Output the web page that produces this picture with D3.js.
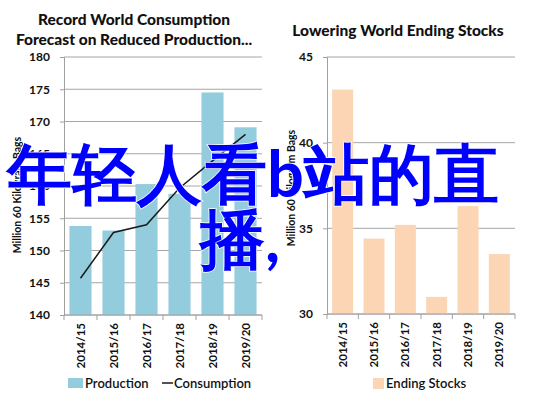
<!DOCTYPE html>
<html><head><meta charset="utf-8">
<script src="https://cdn.jsdelivr.net/npm/d3@7"></script>
<style>
html,body{margin:0;padding:0;background:#fff;}
svg{display:block;}
text{font-family:Lato,"Open Sans",sans-serif;}
</style></head>
<body><svg id="c" width="537" height="399"></svg>
<script>
const categories = ["2014/15","2015/16","2016/17","2017/18","2018/19","2019/20"];
const production = [153.8, 153.1, 160.3, 158.8, 174.5, 169.1];
const consumption = [145.7, 152.8, 154.0, 159.7, 163.9, 168.0];
const endingStocks = [43.1, 34.4, 35.2, 31.0, 36.3, 33.5];
const leftTicks = [140,145,150,155,160,165,170,175,180];
const rightTicks = [30,35,40,45];
const leftTitle = ["Record World Consumption","Forecast on Reduced Production..."];
const rightTitle = ["Lowering World Ending Stocks"];
const yLabel = "Million 60 Kilogram Bags";
const overlay = ["年轻人看b站的直","播,"];

const svg = d3.select("#c");
svg.append("rect").attr("width",537).attr("height",399).attr("fill","#fff");

function panel(o){
  const g = svg.append("g");
  const x = d3.scaleBand().domain(categories).range([o.x0,o.x1]).paddingInner(0.33).paddingOuter(0.165);
  const y = d3.scaleLinear().domain(o.domain).range([o.yb,o.yt]);
  g.selectAll(".grid").data(o.ticks).join("line")
    .attr("x1",o.x0).attr("x2",o.x1).attr("y1",d=>y(d)).attr("y2",d=>y(d))
    .attr("stroke","#a6a6a6").attr("stroke-width",1);
  g.selectAll(".bar").data(o.values).join("rect")
    .attr("x",(d,i)=>x(categories[i])).attr("width",x.bandwidth())
    .attr("y",d=>y(d)).attr("height",d=>y(o.domain[0])-y(d))
    .attr("fill",o.color);
  const ya = g.append("g").attr("transform",`translate(${o.x0},0)`)
    .call(d3.axisLeft(y).tickValues(o.ticks).tickSize(4).tickPadding(10).tickFormat(d3.format("d")));
  ya.select(".domain").attr("stroke","#a0a0a0");
  ya.selectAll(".tick line").attr("stroke","#a0a0a0");
  ya.selectAll(".tick text").attr("font-family","Lato, sans-serif").attr("font-weight","bold").attr("font-size",12).attr("fill","#111");
  g.append("line").attr("x1",o.x0).attr("x2",o.x1).attr("y1",y(o.domain[0])).attr("y2",y(o.domain[0])).attr("stroke","#a0a0a0");
  const bounds = d3.range(categories.length+1).map(i=>x.range()[0]+i*x.step());
  g.selectAll(".xt").data(bounds).join("line")
    .attr("x1",d=>d).attr("x2",d=>d).attr("y1",y(o.domain[0])).attr("y2",y(o.domain[0])+5).attr("stroke","#a0a0a0");
  g.selectAll(".xl").data(categories).join("text")
    .attr("transform",d=>`translate(${x(d)+x.bandwidth()/2+4},${y(o.domain[0])+8}) rotate(-90)`)
    .attr("text-anchor","end").attr("font-weight","bold").attr("font-size",11.5).attr("fill","#111").text(d=>d);
  g.append("text").attr("transform",`translate(${o.ylx},${o.yly}) rotate(-90)`)
    .attr("text-anchor","middle").attr("font-weight","bold").attr("font-size",10.5).attr("fill","#111").text(yLabel);
  g.append("g").selectAll("text").data(o.title).join("text")
    .attr("x",o.tx).attr("y",(d,i)=>o.ty+i*20).attr("text-anchor","middle")
    .attr("font-weight","900").attr("font-size",15.5).attr("fill","#111").text(d=>d);
  return {g,x,y};
}

const L = panel({x0:64,x1:262,yb:315,yt:57,domain:[140,180],ticks:leftTicks,values:production,color:"#93cddd",
  ylx:21,yly:195,title:leftTitle,tx:134,ty:25});
L.g.append("path").datum(consumption)
  .attr("d",d3.line().x((d,i)=>L.x(categories[i])+L.x.bandwidth()/2).y(d=>L.y(d)))
  .attr("fill","none").attr("stroke","#1a1a1a").attr("stroke-width",1.5);
L.g.append("rect").attr("x",68).attr("y",378).attr("width",15).attr("height",10).attr("fill","#93cddd");
L.g.append("text").attr("x",85).attr("y",388).attr("font-size",13).attr("font-weight","600").attr("fill","#111").text("Production");
L.g.append("line").attr("x1",162).attr("x2",173).attr("y1",383).attr("y2",383).attr("stroke","#1a1a1a").attr("stroke-width",1.5);
L.g.append("text").attr("x",174).attr("y",388).attr("font-size",13).attr("font-weight","600").attr("fill","#111").text("Consumption");

const R = panel({x0:327,x1:515,yb:314,yt:57,domain:[30,45],ticks:rightTicks,values:endingStocks,color:"#fcd5b5",
  ylx:295,yly:188,title:rightTitle,tx:398,ty:36});
R.g.append("rect").attr("x",373).attr("y",378).attr("width",11).attr("height",11).attr("fill","#fcd5b5");
R.g.append("text").attr("x",386).attr("y",388).attr("font-size",13).attr("font-weight","600").attr("fill","#111").text("Ending Stocks");

svg.append("g").selectAll("text").data(overlay).join("text")
  .attr("x",(d,i)=>i===0?7:200).attr("y",(d,i)=>197+i*65)
  .attr("font-family","'Noto Sans CJK SC',sans-serif").attr("font-weight","bold").attr("font-size",65)
  .attr("fill","#0000ff").attr("stroke","#fff").attr("stroke-width",1.5).attr("paint-order","stroke")
  .text(d=>d);
</script></body></html>
